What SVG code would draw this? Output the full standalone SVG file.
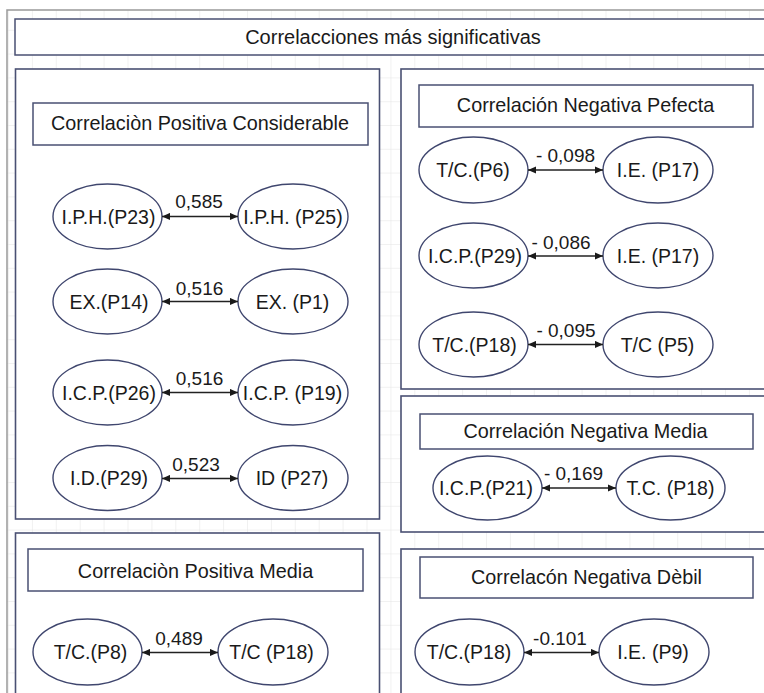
<svg xmlns="http://www.w3.org/2000/svg" width="764" height="693" viewBox="0 0 764 693">
<style>
  .panel{fill:#ffffff;stroke:#4a5073;stroke-width:1.6}
  .hdr{fill:#ffffff;stroke:#4a5073;stroke-width:1.5}
  .node{fill:#ffffff;stroke:#3f466e;stroke-width:1.4}
  .t{font-family:"Liberation Sans",Arial,sans-serif;fill:#1a1a1a;text-anchor:middle}
  .n{font-size:19.5px}
  .h{font-size:19.8px}
  .e{font-size:19px}
  .c{stroke:#222222;stroke-width:1.5;fill:none;marker-start:url(#ah);marker-end:url(#ah)}
</style>
<defs>
  <pattern id="grid" patternUnits="userSpaceOnUse" x="8" y="6" width="23.9" height="23.8">
    <path d="M0 0V23.8M0 0H23.9" fill="none" stroke="#e4e4e4" stroke-width="1"/>
  </pattern>
  <marker id="ah" viewBox="0 0 10 10" refX="10" refY="5" markerWidth="8" markerHeight="8" markerUnits="userSpaceOnUse" orient="auto-start-reverse">
    <path d="M0 0.5L10 5L0 9.5Z" fill="#1a1a1a"/>
  </marker>
</defs>
<rect width="764" height="693" fill="#ffffff"/>
<rect x="7" y="10" width="800" height="700" fill="url(#grid)" stroke="#999999" stroke-width="1.5"/>

<g id="title">
  <rect class="hdr" x="15" y="19" width="800" height="36"/>
  <text class="t" x="393" y="44" font-size="20">Correlacciones más significativas</text>
</g>

<g id="panel-positiva-considerable">
  <rect class="panel" x="15.5" y="69" width="364" height="450"/>
  <rect class="hdr" x="33" y="103" width="335" height="42"/>
  <text class="t h" x="200" y="130">Correlaciòn Positiva Considerable</text>
</g>
<g id="n-iph-p23"><ellipse class="node" cx="107.5" cy="216.5" rx="54.5" ry="32.5"/><text class="t n" x="108.5" y="223.5">I.P.H.(P23)</text></g>
<g id="n-iph-p25"><ellipse class="node" cx="293" cy="216.5" rx="55" ry="32.5"/><text class="t n" x="293" y="223.5">I.P.H. (P25)</text></g>
<g id="n-ex-p14"><ellipse class="node" cx="107.5" cy="301.5" rx="54.5" ry="32.5"/><text class="t n" x="109" y="308.5">EX.(P14)</text></g>
<g id="n-ex-p1"><ellipse class="node" cx="293" cy="301.5" rx="55" ry="32.5"/><text class="t n" x="292.5" y="308.5">EX. (P1)</text></g>
<g id="n-icp-p26"><ellipse class="node" cx="107.5" cy="392.5" rx="54.5" ry="32.5"/><text class="t n" x="109" y="399.5">I.C.P.(P26)</text></g>
<g id="n-icp-p19"><ellipse class="node" cx="293" cy="392.5" rx="55" ry="32.5"/><text class="t n" x="292.5" y="399.5">I.C.P. (P19)</text></g>
<g id="n-id-p29"><ellipse class="node" cx="107.5" cy="478" rx="54.5" ry="32.5"/><text class="t n" x="109" y="485">I.D.(P29)</text></g>
<g id="n-id-p27"><ellipse class="node" cx="293" cy="478" rx="55" ry="32.5"/><text class="t n" x="292" y="485">ID (P27)</text></g>

<g id="panel-positiva-media">
  <rect class="panel" x="15.5" y="533" width="364" height="200"/>
  <rect class="hdr" x="28" y="549" width="335" height="42"/>
  <text class="t h" x="195.5" y="577.5">Correlaciòn Positiva Media</text>
</g>
<g id="n-tc-p8"><ellipse class="node" cx="87.5" cy="652" rx="54.5" ry="33"/><text class="t n" x="90.5" y="659">T/C.(P8)</text></g>
<g id="n-tc-p18-a"><ellipse class="node" cx="273" cy="652" rx="55" ry="33"/><text class="t n" x="271.5" y="659">T/C (P18)</text></g>

<g id="panel-negativa-perfecta">
  <rect class="panel" x="401" y="69" width="400" height="320"/>
  <rect class="hdr" x="419" y="85" width="334" height="42"/>
  <text class="t h" x="585.5" y="112">Correlación Negativa Pefecta</text>
</g>
<g id="n-tc-p6"><ellipse class="node" cx="473.5" cy="170" rx="54.5" ry="33"/><text class="t n" x="473" y="177">T/C.(P6)</text></g>
<g id="n-ie-p17-a"><ellipse class="node" cx="658" cy="170" rx="55" ry="33"/><text class="t n" x="658" y="177">I.E. (P17)</text></g>
<g id="n-icp-p29"><ellipse class="node" cx="473.5" cy="255.5" rx="54.5" ry="32.5"/><text class="t n" x="475" y="262.5">I.C.P.(P29)</text></g>
<g id="n-ie-p17-b"><ellipse class="node" cx="658" cy="255.5" rx="55" ry="32.5"/><text class="t n" x="658" y="262.5">I.E. (P17)</text></g>
<g id="n-tc-p18-b"><ellipse class="node" cx="473.5" cy="344.5" rx="54.5" ry="32.5"/><text class="t n" x="474.5" y="351.5">T/C.(P18)</text></g>
<g id="n-tc-p5"><ellipse class="node" cx="658" cy="344.5" rx="55" ry="32.5"/><text class="t n" x="657.5" y="351.5">T/C (P5)</text></g>

<g id="panel-negativa-media">
  <rect class="panel" x="401" y="396" width="400" height="136"/>
  <rect class="hdr" x="420" y="414" width="333" height="35"/>
  <text class="t h" x="585.5" y="437.5">Correlación Negativa Media</text>
</g>
<g id="n-icp-p21"><ellipse class="node" cx="487.5" cy="488" rx="54.5" ry="32"/><text class="t n" x="486" y="495">I.C.P.(P21)</text></g>
<g id="n-tc-p18-c"><ellipse class="node" cx="670.5" cy="488" rx="54.5" ry="32"/><text class="t n" x="670.5" y="495">T.C. (P18)</text></g>

<g id="panel-negativa-debil">
  <rect class="panel" x="401" y="549" width="400" height="200"/>
  <rect class="hdr" x="420" y="557" width="333" height="41"/>
  <text class="t h" x="586.5" y="584">Correlacón Negativa Dèbil</text>
</g>
<g id="n-tc-p18-d"><ellipse class="node" cx="469.5" cy="652" rx="54.5" ry="33"/><text class="t n" x="469" y="659">T/C.(P18)</text></g>
<g id="n-ie-p9"><ellipse class="node" cx="654" cy="652" rx="55" ry="33"/><text class="t n" x="653" y="659">I.E. (P9)</text></g>

<g id="connectors">
  <line class="c" x1="162" y1="216.5" x2="238" y2="216.5"/>
  <text class="t e" x="199" y="208">0,585</text>
  <line class="c" x1="162" y1="301.5" x2="238" y2="301.5"/>
  <text class="t e" x="199.5" y="294.5">0,516</text>
  <line class="c" x1="162" y1="392.5" x2="238" y2="392.5"/>
  <text class="t e" x="199.5" y="385">0,516</text>
  <line class="c" x1="162" y1="478.5" x2="238" y2="478.5"/>
  <text class="t e" x="196" y="470.5">0,523</text>
  <line class="c" x1="142" y1="652.5" x2="218" y2="652.5"/>
  <text class="t e" x="179" y="645">0,489</text>
  <line class="c" x1="528" y1="170" x2="603" y2="170"/>
  <text class="t e" x="565.5" y="162">- 0,098</text>
  <line class="c" x1="528" y1="256" x2="603" y2="256"/>
  <text class="t e" x="561" y="249">- 0,086</text>
  <line class="c" x1="528" y1="344.5" x2="603" y2="344.5"/>
  <text class="t e" x="566" y="337">- 0,095</text>
  <line class="c" x1="542" y1="488" x2="616" y2="488"/>
  <text class="t e" x="573.5" y="480">- 0,169</text>
  <line class="c" x1="524" y1="652.5" x2="599" y2="652.5"/>
  <text class="t e" x="560" y="645">-0.101</text>
</g>
</svg>
